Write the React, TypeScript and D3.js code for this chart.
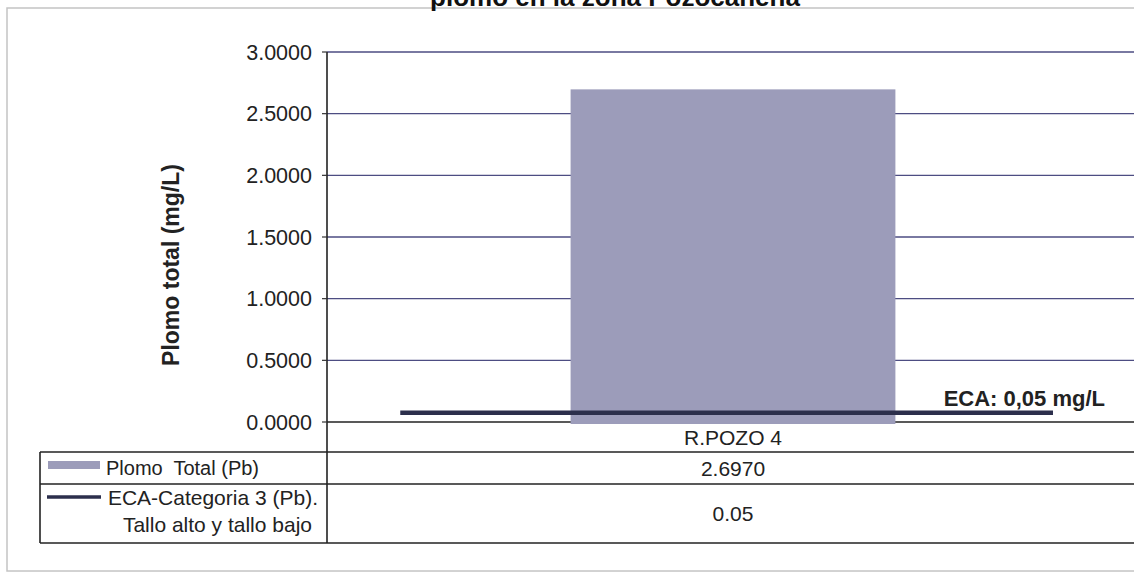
import React from 'react';
import * as d3 from 'd3';

// chart values
const categories = ['R.POZO 4'];
const plomoTotal = [2.697];
const ecaLimit = [0.05];
const yTicks = [0, 0.5, 1, 1.5, 2, 2.5, 3];
const seriesLabels = ['Plomo  Total (Pb)', 'ECA-Categoria 3 (Pb).', 'Tallo alto y tallo bajo'];
const title = 'plomo en la zona Pozocañeña';
const yTitle = 'Plomo total (mg/L)';
const ecaNote = 'ECA: 0,05 mg/L';

const W = 1134;
const H = 575;
const plot = { left: 327, right: 1139, top: 52, bottom: 422 };
const rows = { head: 452, r1: 484, r2: 543, left: 40 };
const font = '"Liberation Sans", Arial, sans-serif';

const App: React.FC = () => {
  const y = d3.scaleLinear().domain([0, 3]).range([plot.bottom, plot.top]);

  const x = d3.scaleBand<string>()
    .domain(categories)
    .range([plot.left, plot.right])
    .paddingInner(0.6)
    .paddingOuter(0.3);

  // the ECA reference line spans most of the category band
  const xLine = d3.scaleBand<string>()
    .domain(categories)
    .range([plot.left, plot.right])
    .paddingInner(0)
    .paddingOuter(0.122)
    .align(0.46);

  const fmt4 = d3.format('.4f');
  const center = (c: string) => (x(c) ?? 0) + x.bandwidth() / 2;

  return (
    <svg width={W} height={H} style={{ position: 'absolute', left: 0, top: 0, background: '#fff' }}
      fontFamily={font}>
      {/* faint outer frame */}
      <rect x={7} y={8} width={W + 10} height={563} fill="none" stroke="#c4c4c4" strokeWidth={1.5} />

      {/* title, cut at top of page as in the scan */}
      <text x={615} y={6} textAnchor="middle" fontSize={26} fontWeight="bold" fill="#111">{title}</text>

      {/* gridlines */}
      {yTicks.map(t => (
        <line key={'g' + t} x1={plot.left} x2={W} y1={y(t)} y2={y(t)}
          stroke={t === 0 ? '#222' : '#4d4d82'} strokeWidth={t === 0 ? 1.6 : 1.3} />
      ))}

      {/* bars */}
      {categories.map((c, i) => (
        <rect key={c} x={x(c)} y={y(plomoTotal[i])} width={x.bandwidth()}
          height={y(0) - y(plomoTotal[i]) + 2} fill="#9c9cba" />
      ))}

      {/* ECA line */}
      {categories.map((c, i) => (
        <line key={'eca' + c} x1={xLine(c)} x2={(xLine(c) ?? 0) + xLine.bandwidth()}
          y1={y(ecaLimit[i]) - 3} y2={y(ecaLimit[i]) - 3} stroke="#2c2f4c" strokeWidth={4.5} />
      ))}
      <text x={plot.right - 34} y={y(ecaLimit[0]) - 10} textAnchor="end" fontSize={22}
        fontWeight="bold" fill="#222">{ecaNote}</text>

      {/* y axis */}
      <line x1={plot.left} x2={plot.left} y1={plot.top} y2={rows.r2} stroke="#222" strokeWidth={1.6} />
      {yTicks.map(t => (
        <g key={'t' + t}>
          <line x1={plot.left - 5} x2={plot.left} y1={y(t)} y2={y(t)} stroke="#333" strokeWidth={1.2} />
          <text x={plot.left - 15} y={y(t)} dy="0.36em" textAnchor="end" fontSize={21.5} fill="#222">
            {fmt4(t)}
          </text>
        </g>
      ))}
      <text transform={`translate(179,265) rotate(-90)`} textAnchor="middle" fontSize={23}
        fontWeight="bold" fill="#222">{yTitle}</text>

      {/* data table */}
      {[rows.head, rows.r1, rows.r2].map(r => (
        <line key={'r' + r} x1={rows.left} x2={W} y1={r} y2={r} stroke="#222" strokeWidth={1.6} />
      ))}
      <line x1={rows.left} x2={rows.left} y1={rows.head} y2={rows.r2} stroke="#222" strokeWidth={1.6} />

      {categories.map((c, i) => (
        <g key={'tbl' + c} fontSize={21} fill="#222" textAnchor="middle">
          <text x={center(c)} y={445}>{c}</text>
          <text x={center(c)} y={476}>{fmt4(plomoTotal[i])}</text>
          <text x={center(c)} y={521}>{String(ecaLimit[i])}</text>
        </g>
      ))}

      {/* legend keys in table */}
      <rect x={48} y={461} width={52} height={8} fill="#9c9cba" />
      <line x1={47} x2={101} y1={497} y2={497} stroke="#2c2f4c" strokeWidth={3.5} />
      <text x={106} y={475} fontSize={20} fill="#222" style={{ whiteSpace: 'pre' }}>{seriesLabels[0]}</text>
      <text x={318} y={505} fontSize={21} fill="#222" textAnchor="end">{seriesLabels[1]}</text>
      <text x={312} y={532} fontSize={21} fill="#222" textAnchor="end">{seriesLabels[2]}</text>
    </svg>
  );
};

export default App;
